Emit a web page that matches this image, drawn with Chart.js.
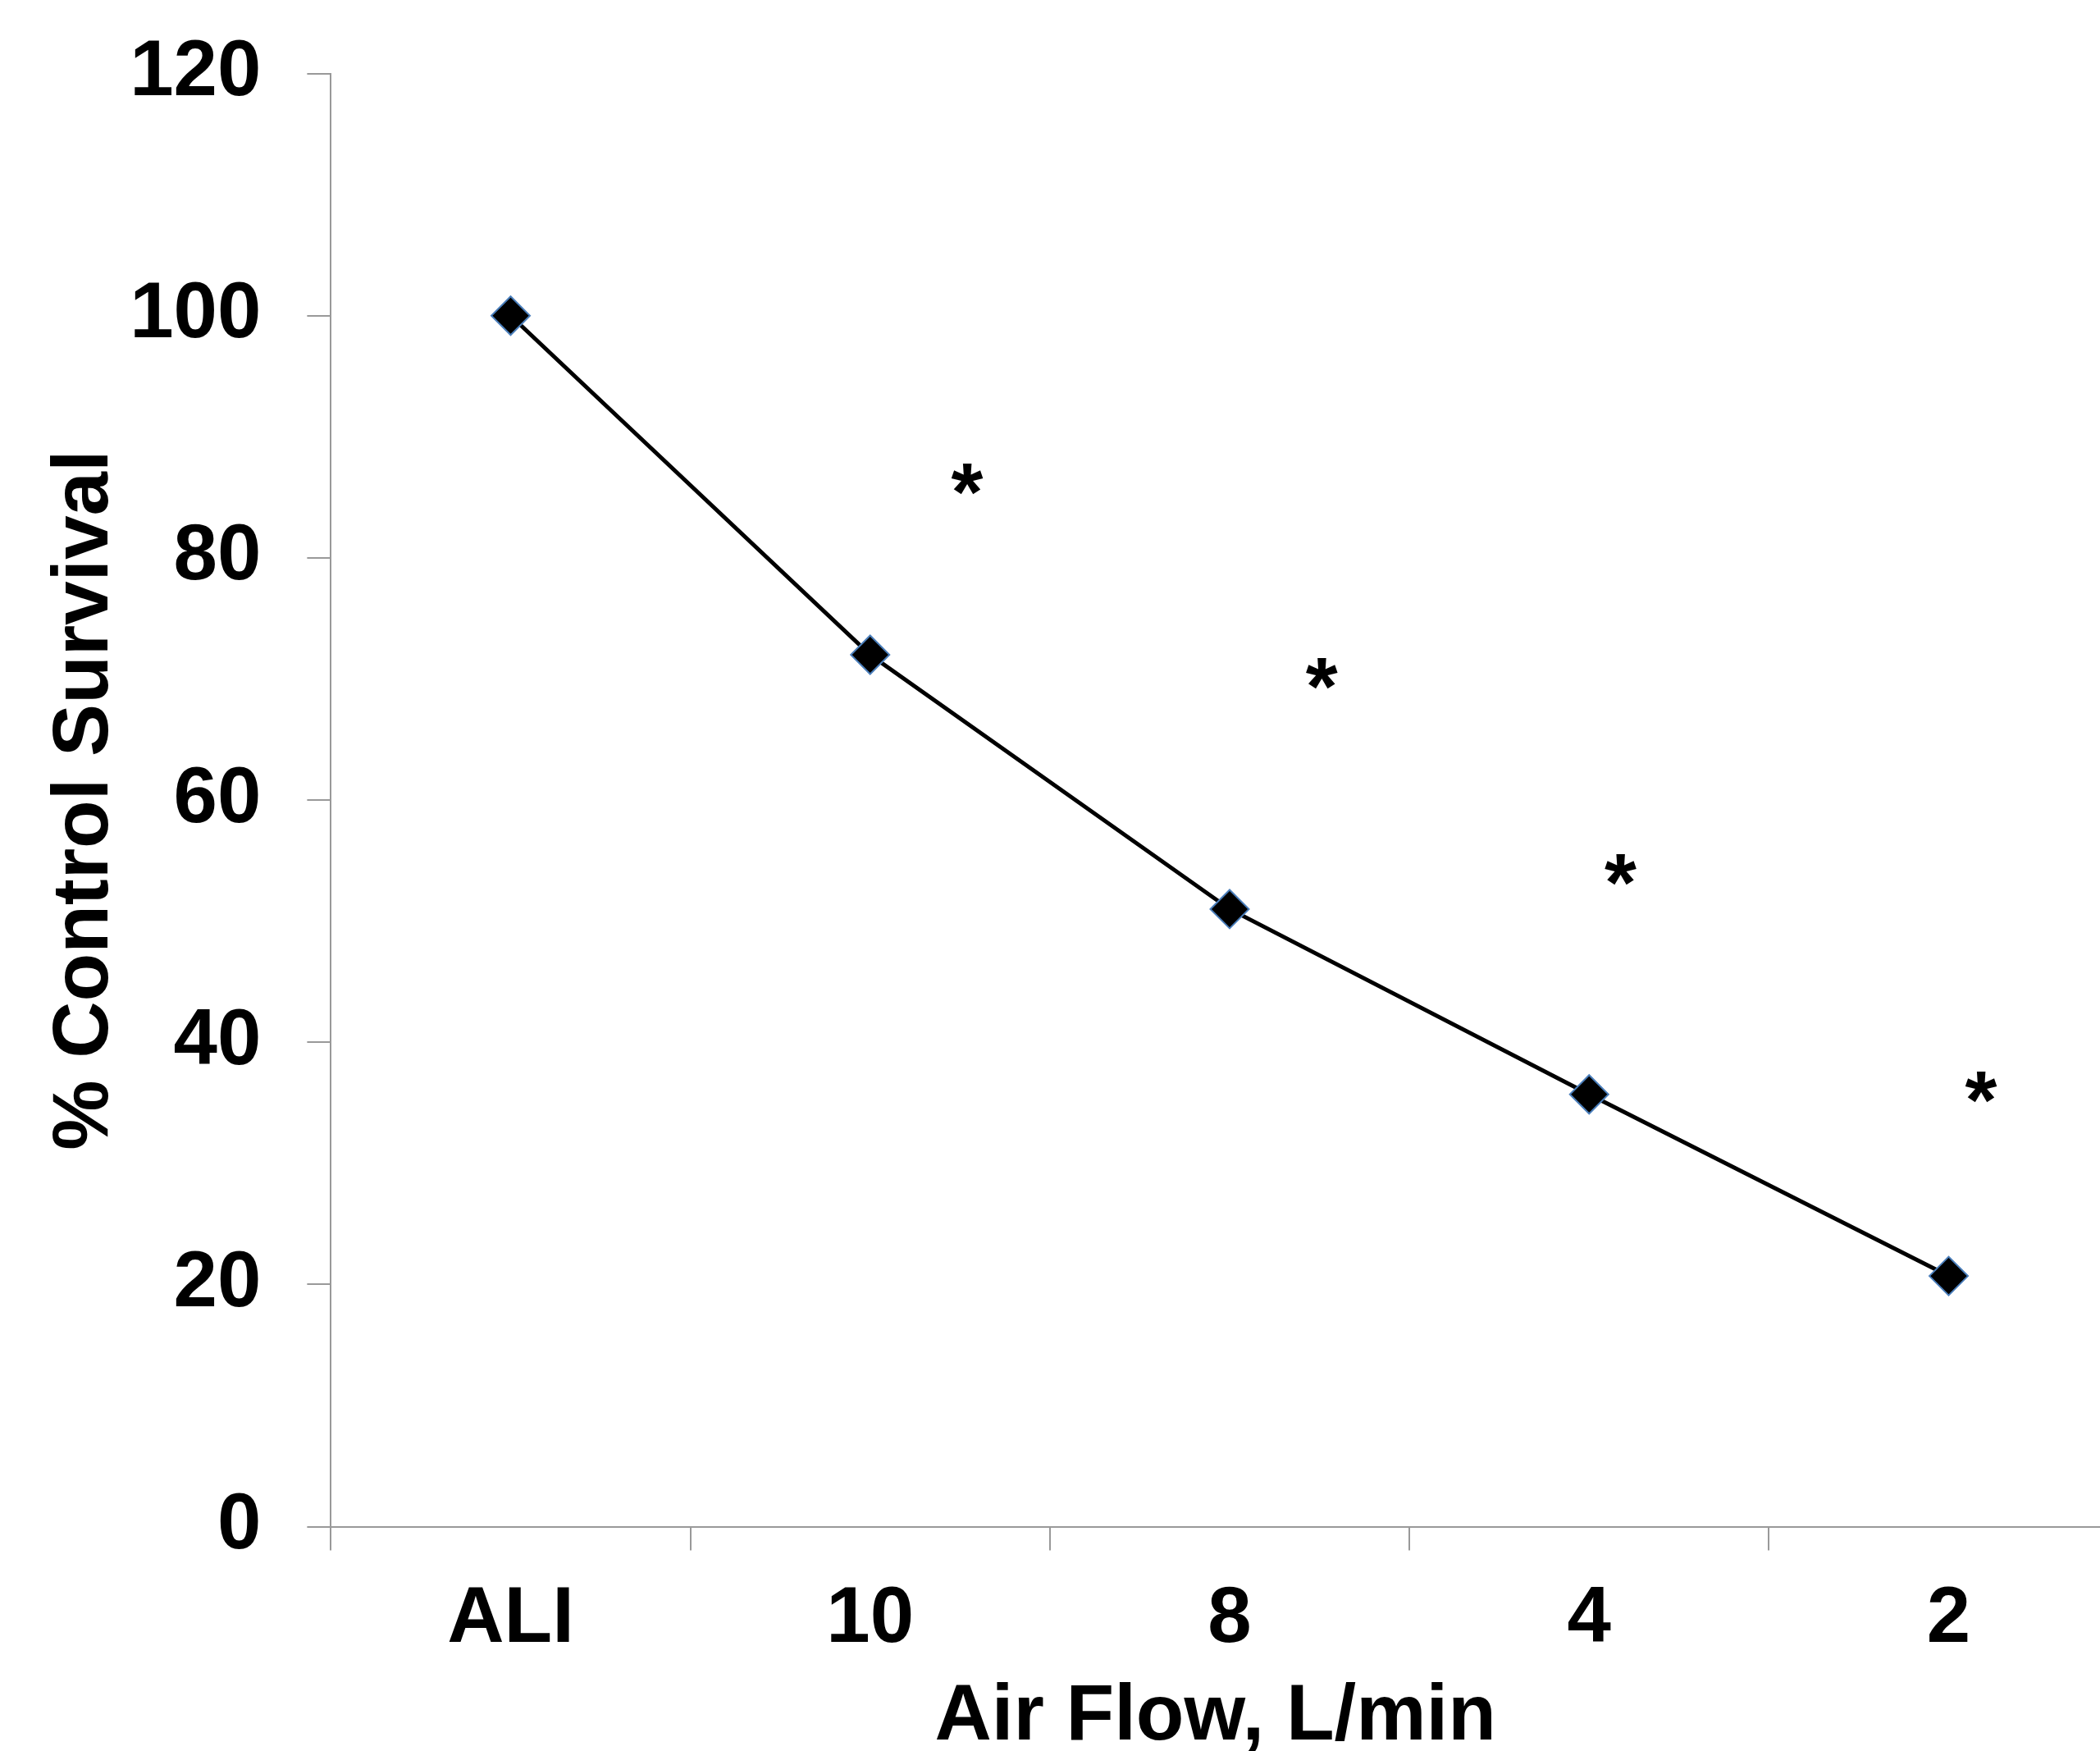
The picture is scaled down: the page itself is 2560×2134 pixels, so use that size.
<!DOCTYPE html>
<html>
<head>
<meta charset="utf-8">
<script src="https://cdn.jsdelivr.net/npm/chart.js@4/dist/chart.umd.min.js"></script>
<style>
    html, body { margin: 0; padding: 0; background: #fff; }
    #wrap { width: 2560px; height: 2134px; position: relative; }
</style>
</head>
<body>
<div id="wrap"><canvas id="grafico"></canvas></div>
<script>
// Datos del gráfico
const categorias = ['ALI', '10', '8', '4', '2'];
const supervivencia = [100, 72, 51, 35.7, 20.7];
// Asteriscos de significancia (posición en unidades de categoría)
const estrellaX = [1.27, 2.256, 3.087, 4.09];
const estrellaY = [86.2, 70.2, 54.0, 36.0];
const ticksY = [0, 20, 40, 60, 80, 100, 120];

const fuente = { family: '"Liberation Sans", Arial, sans-serif', weight: 'bold', size: 96 };
const fuenteY = { family: '"Liberation Sans", Arial, sans-serif', weight: 'bold', size: 96, lineHeight: 0.7 };
const gris = '#999999';

// Plugin para dibujar los asteriscos como texto
const pluginEstrellas = {
    id: 'estrellas',
    afterDatasetsDraw(chart) {
        const ctx = chart.ctx;
        const meta = chart.getDatasetMeta(1);
        ctx.save();
        ctx.fillStyle = '#000';
        ctx.font = 'bold 100px "Liberation Sans", Arial, sans-serif';
        ctx.textAlign = 'center';
        ctx.textBaseline = 'alphabetic';
        meta.data.forEach(p => {
            ctx.fillText('*', p.x, p.y + 46);
        });
        ctx.restore();
    }
};

new Chart(document.getElementById('grafico').getContext('2d'), {
    type: 'scatter',
    data: {
        datasets: [{
            data: supervivencia.map((v, i) => ({ x: i, y: v })),
            showLine: true,
            borderColor: '#000',
            borderWidth: 5,
            pointStyle: 'rectRot',
            pointRadius: 23.5,
            pointBackgroundColor: '#000',
            pointBorderColor: '#4a7ebb',
            pointBorderWidth: 2
        }, {
            data: estrellaX.map((x, i) => ({ x: x, y: estrellaY[i] })),
            showLine: false,
            pointRadius: 0
        }]
    },
    options: {
        responsive: true,
        maintainAspectRatio: false,
        animation: false,
        events: [],
        layout: { autoPadding: false, padding: { left: 34, top: 86, right: 0, bottom: 0 } },
        plugins: { legend: { display: false }, tooltip: { enabled: false } },
        scales: {
            x: {
                type: 'linear',
                min: -0.5,
                max: 4.421,
                afterBuildTicks: scale => {
                    const t = [];
                    for (let v = -0.5; v <= 4; v += 0.5) t.push({ value: v });
                    scale.ticks = t;
                },
                border: { color: gris, width: 2 },
                grid: {
                    drawOnChartArea: false,
                    tickLength: 29,
                    lineWidth: 2,
                    color: c => (c.tick && Number.isInteger(c.tick.value)) ? 'rgba(0,0,0,0)' : gris
                },
                ticks: {
                    autoSkip: false,
                    maxRotation: 0,
                    padding: 27,
                    color: '#000',
                    font: fuente,
                    callback: v => Number.isInteger(v) ? categorias[v] : ''
                },
                title: {
                    display: true,
                    text: 'Air Flow, L/min',
                    color: '#000',
                    font: fuente,
                    padding: { top: -23, bottom: -17 }
                }
            },
            y: {
                min: 0,
                max: 120,
                afterBuildTicks: scale => {
                    scale.ticks = ticksY.map(v => ({ value: v }));
                },
                border: { color: gris, width: 2 },
                grid: {
                    drawOnChartArea: false,
                    tickLength: 29,
                    lineWidth: 2,
                    color: gris
                },
                ticks: {
                    padding: 56,
                    color: '#000',
                    font: fuenteY
                },
                title: {
                    display: true,
                    text: '% Control Survival',
                    color: '#000',
                    font: fuente,
                    padding: { top: 13, bottom: -60 }
                }
            }
        }
    },
    plugins: [pluginEstrellas]
});
</script>
</body>
</html>
